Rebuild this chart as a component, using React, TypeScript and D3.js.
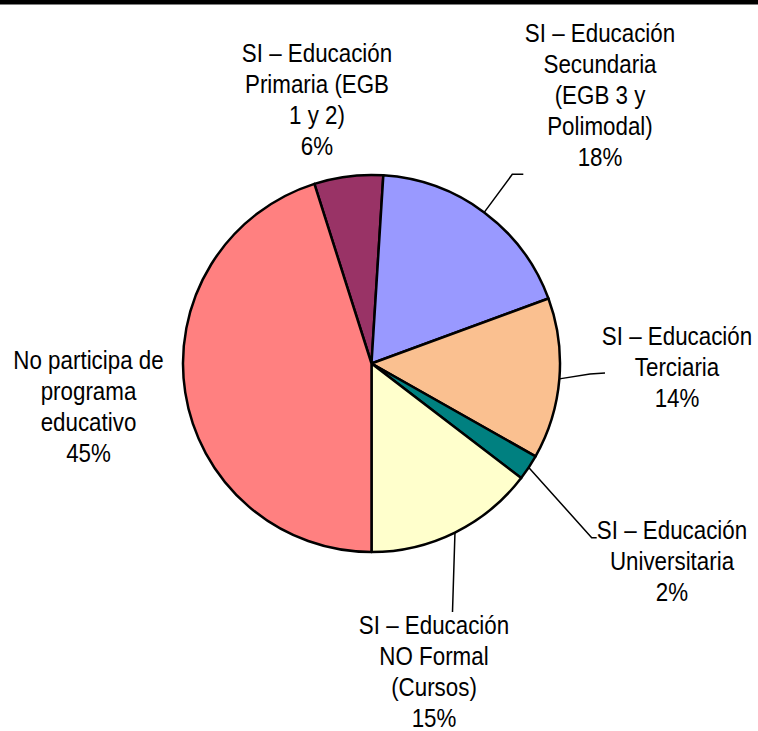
import React from "react";
import * as d3 from "d3";

const categories = [
  "SI – Educación Primaria (EGB 1 y 2)",
  "SI – Educación Secundaria (EGB 3 y Polimodal)",
  "SI – Educación Terciaria",
  "SI – Educación Universitaria",
  "SI – Educación NO Formal (Cursos)",
  "No participa de programa educativo",
];
const values = [5.9, 18.4, 13.8, 2.2, 14.6, 45.1];
const labelLines = [
  ["SI – Educación", "Primaria (EGB", "1 y 2)"],
  ["SI – Educación", "Secundaria", "(EGB 3 y", "Polimodal)"],
  ["SI – Educación", "Terciaria"],
  ["SI – Educación", "Universitaria"],
  ["SI – Educación", "NO Formal", "(Cursos)"],
  ["No participa de", "programa", "educativo"],
];
const colors = ["#993366", "#9999FF", "#FAC090", "#008080", "#FFFFCC", "#FF8080"];

// layout
const W = 758, H = 731;
const CX = 371.5, CY = 363.5, R = 188.5;
const START = (-17.64 * Math.PI) / 180;
const labelPos = [
  { x: 317, y: 62 },
  { x: 600, y: 42 },
  { x: 677, y: 345 },
  { x: 672, y: 539 },
  { x: 434, y: 634 },
  { x: 88.5, y: 369 },
];
// leader line elbow/end points (null = no leader)
const leaders: ([number, number][] | null)[] = [
  null,
  [[512.3, 174.3], [523.3, 174.3]],
  [[590, 374], [605, 373]],
  [[591.7, 537.7], [596.7, 537.7]],
  [[452.5, 612]],
  null,
];
const LINE_H = 31;
const SX = 0.86;

export default function App() {
  const pie = d3
    .pie<number>()
    .sort(null)
    .value((d) => d)
    .startAngle(START)
    .endAngle(START + 2 * Math.PI);
  const arcs = pie(values);
  const arc = d3.arc<d3.PieArcDatum<number>>().innerRadius(0).outerRadius(R);
  const total = d3.sum(values);

  return (
    <div style={{ position: "absolute", left: 0, top: 0 }}>
      <svg width={W} height={H} style={{ display: "block" }}>
        <rect x={0} y={0} width={W} height={H} fill="#fff" />
        <rect x={0} y={0} width={W} height={4.5} fill="#000" />
        <g transform={`translate(${CX},${CY})`}>
          {arcs.map((a, i) => (
            <path key={i} d={arc(a) || ""} fill={colors[i]} stroke="#000" strokeWidth={2.5} strokeLinejoin="round">
              <title>{categories[i]}</title>
            </path>
          ))}
        </g>
        {arcs.map((a, i) => {
          const pts = leaders[i];
          if (!pts) return null;
          const mid = (a.startAngle + a.endAngle) / 2;
          const sx = CX + R * Math.sin(mid);
          const sy = CY - R * Math.cos(mid);
          const all: [number, number][] = [[sx, sy], ...pts];
          return (
            <path key={"l" + i} d={d3.line()(all) || ""} fill="none" stroke="#000" strokeWidth={1.5} />
          );
        })}
        {labelLines.map((lines, i) => {
          const all = [...lines, `${Math.round((values[i] / total) * 100)}%`];
          return (
            <text
              key={"t" + i}
              transform={`translate(${labelPos[i].x},${labelPos[i].y}) scale(${SX},1)`}
              textAnchor="middle"
              fontFamily="'Liberation Sans', Arial, sans-serif"
              fontSize={26}
              fill="#000"
            >
              {all.map((s, j) => (
                <tspan key={j} x={0} dy={j === 0 ? 0 : LINE_H}>
                  {s}
                </tspan>
              ))}
            </text>
          );
        })}
      </svg>
    </div>
  );
}
